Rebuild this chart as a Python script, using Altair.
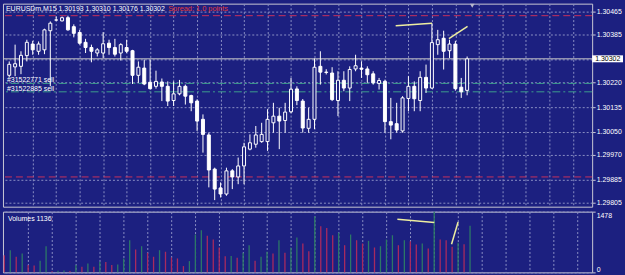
import altair as alt
import pandas as pd

BG = "#1c2080"
GRID = "#8a8fc4"
FRAME = "#c8c8d4"
FONT = "Liberation Sans"

# ---- candle data (EURUSDm, M15) ----
opens = [1.30245, 1.30274, 1.30276, 1.30313, 1.30353, 1.30328, 1.30333, 1.30399, 1.30436, 1.30433,
         1.30444, 1.30413, 1.30393, 1.30359, 1.30341, 1.30322, 1.30322, 1.30356, 1.30341, 1.30322,
         1.30341, 1.30330, 1.30245, 1.30270, 1.30221, 1.30207, 1.30222, 1.30207, 1.30158, 1.30181,
         1.30207, 1.30175, 1.30156, 1.30093, 1.30039, 1.29921, 1.29856, 1.29835, 1.29915, 1.29894,
         1.29932, 1.29990, 1.30007, 1.30016, 1.30016, 1.30081, 1.30104, 1.30089, 1.30119, 1.30198,
         1.30156, 1.30062, 1.30093, 1.30276, 1.30256, 1.30253, 1.30158, 1.30228, 1.30201, 1.30267,
         1.30270, 1.30267, 1.30250, 1.30217, 1.30224, 1.30085, 1.30078, 1.30053, 1.30165, 1.30207,
         1.30158, 1.30238, 1.30201, 1.30351, 1.30373, 1.30330, 1.30353, 1.30204, 1.30193]
highs = [1.30293, 1.30351, 1.30328, 1.30368, 1.30364, 1.30362, 1.30406, 1.30431, 1.30448, 1.30448,
         1.30451, 1.30421, 1.30402, 1.30371, 1.30351, 1.30339, 1.30394, 1.30368, 1.30371, 1.30356,
         1.30368, 1.30333, 1.30293, 1.30299, 1.30299, 1.30261, 1.30234, 1.30224, 1.30224, 1.30229,
         1.30213, 1.30178, 1.30162, 1.30110, 1.30047, 1.29926, 1.29875, 1.29926, 1.29921, 1.29961,
         1.30012, 1.30041, 1.30070, 1.30081, 1.30128, 1.30150, 1.30133, 1.30150, 1.30236, 1.30207,
         1.30163, 1.30133, 1.30303, 1.30328, 1.30266, 1.30273, 1.30259, 1.30259, 1.30276, 1.30316,
         1.30293, 1.30276, 1.30259, 1.30236, 1.30230, 1.30167, 1.30150, 1.30173, 1.30242, 1.30224,
         1.30259, 1.30282, 1.30425, 1.30402, 1.30399, 1.30368, 1.30364, 1.30236, 1.30310]
lows = [1.30238, 1.30242, 1.30249, 1.30293, 1.30316, 1.30316, 1.30318, 1.30207, 1.30434, 1.30431,
        1.30399, 1.30376, 1.30351, 1.30322, 1.30290, 1.30310, 1.30305, 1.30316, 1.30310, 1.30296,
        1.30322, 1.30215, 1.30219, 1.30211, 1.30196, 1.30199, 1.30156, 1.30139, 1.30139, 1.30176,
        1.30144, 1.30121, 1.30053, 1.29978, 1.29858, 1.29814, 1.29823, 1.29829, 1.29852, 1.29869,
        1.29869, 1.29986, 1.29995, 1.30012, 1.29984, 1.30047, 1.29990, 1.30047, 1.30114, 1.30142,
        1.30047, 1.30047, 1.30059, 1.30213, 1.30248, 1.30156, 1.30104, 1.30190, 1.30156, 1.30259,
        1.30236, 1.30219, 1.30213, 1.30196, 1.30047, 1.30024, 1.30047, 1.30047, 1.30121, 1.30121,
        1.30121, 1.30184, 1.30199, 1.30316, 1.30265, 1.30305, 1.30192, 1.30167, 1.30176]
closes = [1.30283, 1.30285, 1.30314, 1.30359, 1.30333, 1.30353, 1.30402, 1.30425, 1.30436, 1.30444,
          1.30402, 1.30390, 1.30356, 1.30341, 1.30328, 1.30333, 1.30354, 1.30341, 1.30318, 1.30351,
          1.30328, 1.30245, 1.30273, 1.30215, 1.30199, 1.30224, 1.30207, 1.30156, 1.30181, 1.30207,
          1.30173, 1.30150, 1.30087, 1.30041, 1.29918, 1.29852, 1.29835, 1.29915, 1.29894, 1.29932,
          1.29998, 1.30012, 1.30039, 1.30041, 1.30093, 1.30104, 1.30087, 1.30118, 1.30197, 1.30158,
          1.30063, 1.30093, 1.30273, 1.30256, 1.30255, 1.30161, 1.30228, 1.30201, 1.30265, 1.30278,
          1.30266, 1.30247, 1.30219, 1.30227, 1.30085, 1.30073, 1.30056, 1.30167, 1.30207, 1.30164,
          1.30238, 1.30201, 1.30358, 1.30368, 1.30328, 1.30353, 1.30199, 1.30188, 1.30302]
volumes = [419, 540, 380, 460, 177, 170, 283, 637, 30, 40,
           45, 35, 177, 138, 218, 138, 259, 250, 177, 190,
           339, 783, 557, 637, 477, 380, 540, 502, 363, 339,
           153, 274, 921, 1025, 889, 800, 606, 395, 400, 356,
           477, 661, 283, 380, 502, 460, 783, 477, 606, 848,
           703, 516, 1364, 1122, 1083, 904, 962, 661, 921, 783,
           703, 768, 606, 637, 800, 904, 661, 783, 758, 678,
           703, 581, 1478, 800, 783, 623, 720, 686, 1136]

bar_index = list(range(len(opens)))

# levels and annotations
red_levels = [1.30451, 1.29894]
order_levels = [1.30217, 1.30188]
order_labels = ["#31522771 sell", "#31522885 sell"]
bid_price = [1.30302]
bid_label = ["1.30302"]
price_ticks = [1.30465, 1.30385, 1.30300, 1.30220, 1.30135, 1.30050, 1.29970, 1.29885, 1.29805]
vol_ticks = [0, 1478]
grid_bars = list(range(4, 97, 4))
header_text = ["EURUSDm,M15  1.30193 1.30310 1.30176 1.30302"]
spread_text = ["Spread: 1.0 points"]
vol_text = ["Volumes 1136"]

tl_price_x1 = [65.83, 74.9]
tl_price_x2 = [72.03, 78.07]
tl_price_y1 = [1.30416, 1.30372]
tl_price_y2 = [1.30425, 1.30414]
tl_vol_x1 = [65.83, 74.9]
tl_vol_x2 = [72.03, 76.0]
tl_vol_y1 = [1291, 686]
tl_vol_y2 = [1212, 1228]

# ---- tables ----
candles = pd.DataFrame({"k": bar_index, "open": opens, "high": highs,
                        "low": lows, "close": closes})
candles["dir"] = ["bull" if c >= o else "bear" for o, c in zip(opens, closes)]

vol = pd.DataFrame({"k": bar_index, "vol": volumes})
vol["dir"] = ["up" if (i > 0 and v > volumes[i - 1]) else "down" for i, v in enumerate(volumes)]

reds = pd.DataFrame({"price": red_levels})
orders = pd.DataFrame({"price": order_levels, "label": order_labels})
bid = pd.DataFrame({"price": bid_price, "label": bid_label})
tl_p = pd.DataFrame({"x1": tl_price_x1, "x2": tl_price_x2, "y1": tl_price_y1, "y2": tl_price_y2})
tl_v = pd.DataFrame({"x1": tl_vol_x1, "x2": tl_vol_x2, "y1": tl_vol_y1, "y2": tl_vol_y2})

# ---- scales / axes ----
xscale = alt.Scale(domain=[-0.2167, 98.45], nice=False, zero=False)
xaxis = alt.Axis(values=grid_bars, labels=False, ticks=False, domain=False, grid=True,
                 gridDash=[2, 2], gridColor=GRID, gridWidth=1, title=None)
pscale = alt.Scale(domain=[1.297913, 1.304925], nice=False, zero=False)
paxis = alt.Axis(orient="right", values=price_ticks, grid=True, gridDash=[2, 2],
                 gridColor=GRID, gridWidth=1, domain=False, tickSize=3,
                 tickColor=FRAME, labelColor="white", labelFont=FONT, labelFontSize=7,
                 labelPadding=1, title=None,
                 labelExpr="datum.value == 1.303 ? '' : format(datum.value, '.5f')")
vscale = alt.Scale(domain=[0, 1478], nice=False, zero=True)
vaxis = alt.Axis(orient="right", values=vol_ticks, format="d", grid=True, gridDash=[2, 2],
                 gridColor=GRID, gridWidth=1, domain=False, tickSize=3, tickColor=FRAME,
                 labelColor="white", labelFont=FONT, labelFontSize=7, labelPadding=1,
                 labelFlush=True, title=None)


def X(f):
    return alt.X(f, type="quantitative", scale=xscale, axis=xaxis)


def PY(f):
    return alt.Y(f, type="quantitative", scale=pscale, axis=paxis)


def VY(f):
    return alt.Y(f, type="quantitative", scale=vscale, axis=vaxis)


base = alt.Chart(candles)
wicks = base.mark_rule(color="white", strokeWidth=1, clip=True).encode(
    x=X("k"), y=PY("low"), y2="high")
bodies = base.mark_bar(size=3, stroke="white", strokeWidth=1, clip=True).encode(
    x=X("k"), y=PY("open"), y2="close",
    fill=alt.Fill("dir:N", scale=alt.Scale(domain=["bull", "bear"], range=[BG, "white"]),
                  legend=None))

red_rules = alt.Chart(reds).mark_rule(color="#c8305c", strokeWidth=1, strokeDash=[7, 4]).encode(
    y=PY("price"))
order_rules = alt.Chart(orders).mark_rule(color="#3c9c8c", strokeWidth=1,
                                          strokeDash=[8, 3, 2, 3]).encode(y=PY("price"))
order_text = alt.Chart(orders).mark_text(align="left", baseline="alphabetic", dy=-1,
                                         color="white", font=FONT, fontSize=7).encode(
    x=alt.value(4), y=PY("price"), text="label:N")
bid_rule = alt.Chart(bid).mark_rule(color="#c8c8c8", strokeWidth=1).encode(y=PY("price"))
bid_box = alt.Chart(bid).mark_tick(orient="horizontal", color="white", thickness=7, size=31,
                                   opacity=1, clip=False).encode(
    x=alt.value(607.5), y=PY("price"))
bid_txt = alt.Chart(bid).mark_text(align="left", baseline="middle", color="black",
                                   font=FONT, fontSize=7).encode(
    x=alt.value(595), y=PY("price"), text="label:N")
trend_p = alt.Chart(tl_p).mark_rule(color="#eeeea0", strokeWidth=1.5).encode(
    x=X("x1"), x2="x2", y=PY("y1"), y2="y2")
head = alt.Chart(pd.DataFrame({"t": header_text})).mark_text(
    align="left", baseline="middle", color="white", font=FONT, fontSize=7).encode(
    x=alt.value(3), y=alt.value(5), text="t:N")
spread = alt.Chart(pd.DataFrame({"t": spread_text})).mark_text(
    align="left", baseline="middle", color="#e03a3a", font=FONT, fontSize=7.4).encode(
    x=alt.value(166), y=alt.value(5), text="t:N")
marker = alt.Chart(pd.DataFrame({"t": ["shift"]})).mark_point(
    shape="triangle-down", filled=True, color="#b8b8cc", size=22, opacity=1).encode(
    x=alt.value(471.5), y=alt.value(2))

price = alt.layer(red_rules, order_rules, bid_rule, wicks, bodies, trend_p, order_text,
                  head, spread, marker, bid_box, bid_txt).properties(width=592, height=204)

vbars = alt.Chart(vol).mark_rule(strokeWidth=1.3).encode(
    x=X("k"), y=VY("vol"), y2=alt.datum(0),
    color=alt.Color("dir:N", scale=alt.Scale(domain=["up", "down"],
                                             range=["#2c7866", "#a82a5e"]), legend=None))
trend_v = alt.Chart(tl_v).mark_rule(color="#eeeea0", strokeWidth=1.5).encode(
    x=X("x1"), x2="x2", y=VY("y1"), y2="y2")
vlabel = alt.Chart(pd.DataFrame({"t": vol_text})).mark_text(
    align="left", baseline="middle", color="white", font=FONT, fontSize=7).encode(
    x=alt.value(5), y=alt.value(7), text="t:N")

volume = alt.layer(vbars, trend_v, vlabel).properties(width=592, height=61)

chart = alt.vconcat(price, volume, spacing=2).configure(
    background=BG,
    padding={"left": 2, "top": 2, "right": 1, "bottom": 6},
).configure_view(stroke=FRAME, strokeWidth=1, fill=BG)

chart.save("out.html", embed_options={"renderer": "svg", "actions": False})
